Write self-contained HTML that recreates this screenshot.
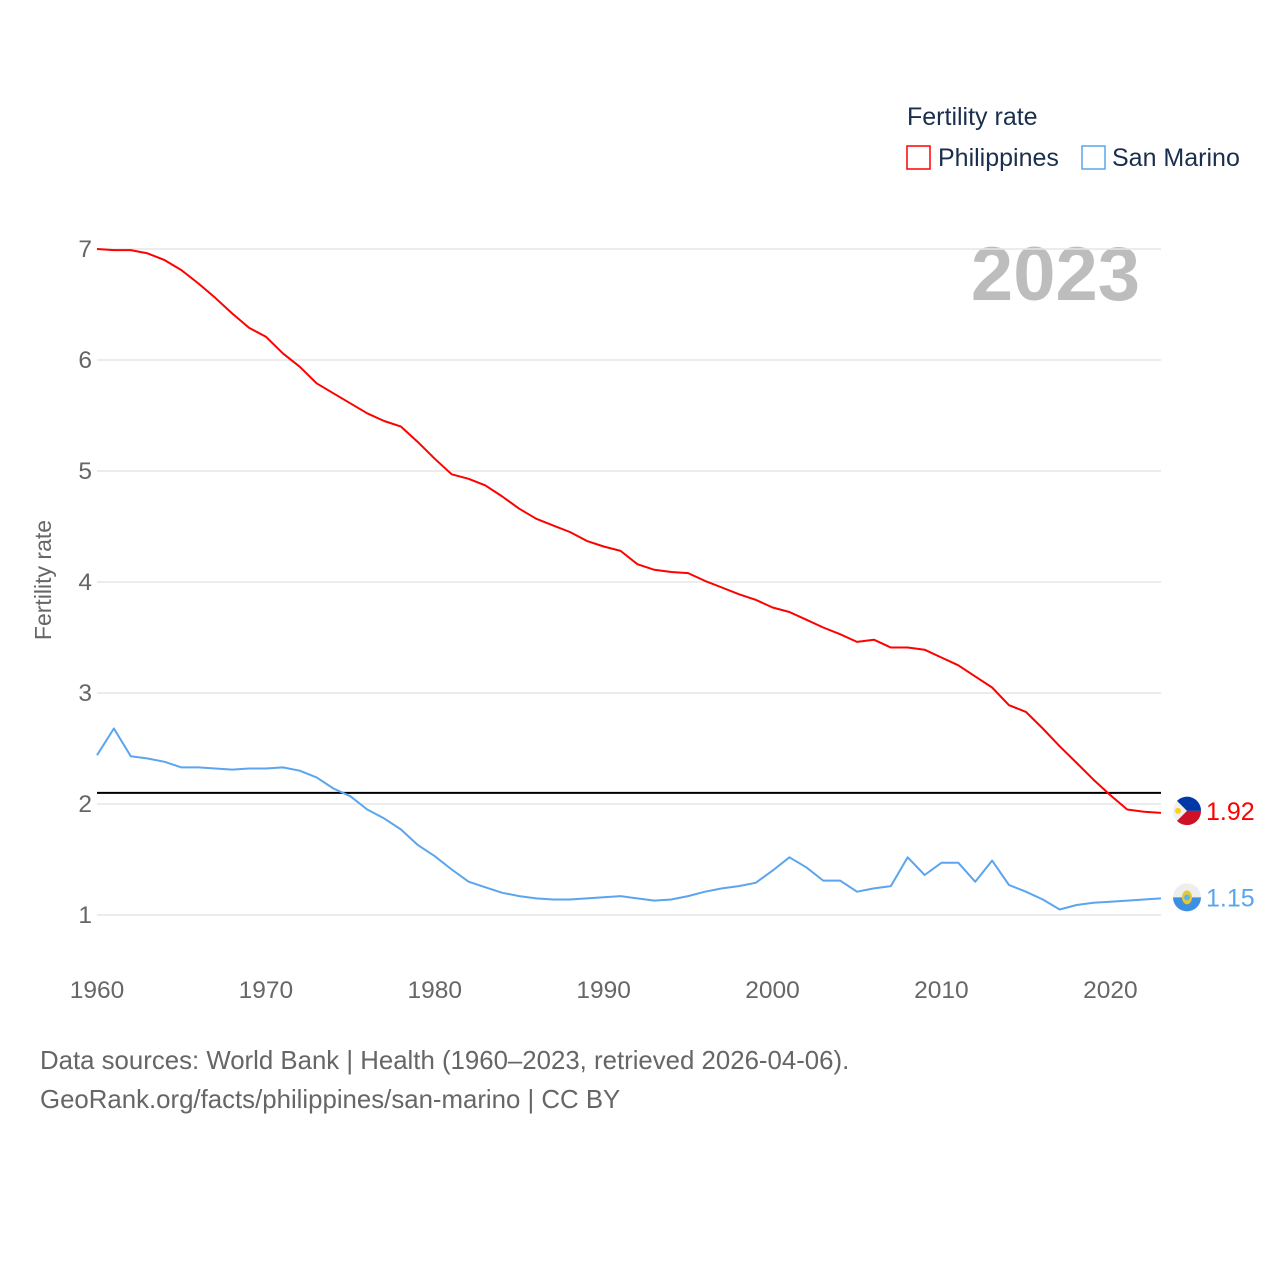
<!DOCTYPE html>
<html><head><meta charset="utf-8"><style>
body{margin:0;background:#fff;font-family:"Liberation Sans",sans-serif}
svg text{font-family:"Liberation Sans",sans-serif}
</style></head><body>
<svg id="chart" width="1280" height="1280" viewBox="0 0 1280 1280" xmlns="http://www.w3.org/2000/svg">
<rect width="1280" height="1280" fill="#fff"/>
<text x="907" y="125" font-size="25" fill="#1a2e4d">Fertility rate</text>
<g><rect x="907" y="146" width="23" height="23" fill="none" stroke="#f00" stroke-width="1.5"/><text x="938" y="166" font-size="25" fill="#1a2e4d">Philippines</text></g>
<g><rect x="1082" y="146" width="23" height="23" fill="none" stroke="#5aa5ee" stroke-width="1.5"/><text x="1112" y="166" font-size="25" fill="#1a2e4d">San Marino</text></g>
<text x="1140" y="300" font-size="76" font-weight="bold" fill="#bdbdbd" text-anchor="end">2023</text>
<text transform="translate(51,580) rotate(-90)" font-size="23" fill="#666" text-anchor="middle">Fertility rate</text>
<g id="grid"></g><g id="series"></g>
<text x="40" y="1069" font-size="25.8" fill="#666">Data sources: World Bank | Health (1960–2023, retrieved 2026-04-06).</text>
<text x="40" y="1108" font-size="25.8" fill="#666">GeoRank.org/facts/philippines/san-marino | CC BY</text>
</svg>
<script>
const years=[];for(let y=1960;y<=2023;y++)years.push(y);
const philippines=[7.0,6.99,6.99,6.96,6.90,6.81,6.69,6.56,6.42,6.29,6.21,6.06,5.94,5.79,5.70,5.61,5.52,5.45,5.40,5.26,5.11,4.97,4.93,4.87,4.77,4.66,4.57,4.51,4.45,4.37,4.32,4.28,4.16,4.11,4.09,4.08,4.01,3.95,3.89,3.84,3.77,3.73,3.66,3.59,3.53,3.46,3.48,3.41,3.41,3.39,3.32,3.25,3.15,3.05,2.89,2.83,2.68,2.52,2.37,2.22,2.08,1.95,1.93,1.92];
const sanMarino=[2.44,2.68,2.43,2.41,2.38,2.33,2.33,2.32,2.31,2.32,2.32,2.33,2.30,2.24,2.14,2.07,1.95,1.87,1.77,1.63,1.53,1.41,1.30,1.25,1.20,1.17,1.15,1.14,1.14,1.15,1.16,1.17,1.15,1.13,1.14,1.17,1.21,1.24,1.26,1.29,1.40,1.52,1.43,1.31,1.31,1.21,1.24,1.26,1.52,1.36,1.47,1.47,1.30,1.49,1.27,1.21,1.14,1.05,1.09,1.11,1.12,1.13,1.14,1.15];
const yTicks=[1,2,3,4,5,6,7];
const xTicks=[1960,1970,1980,1990,2000,2010,2020];
const replacementRate=2.1;
const NS="http://www.w3.org/2000/svg";
const X=y=>97+(y-1960)*(1064/63);
const Y=v=>915-(v-1)*111;
const grid=document.getElementById('grid'),ser=document.getElementById('series');
function mk(tag,attrs,parent,txt){const e=document.createElementNS(NS,tag);for(const k in attrs)e.setAttribute(k,attrs[k]);if(txt!==undefined)e.textContent=txt;parent.appendChild(e);return e;}
yTicks.forEach(t=>{
 const l=mk('line',{x1:97,x2:1161,y1:Y(t),y2:Y(t),stroke:'#e6e6e6','stroke-width':1.5},grid);
 
 
 const tx=mk('text',{x:92,y:Y(t)+8,'font-size':24.5,fill:'#666','text-anchor':'end'},grid,String(t));
 
 
});
xTicks.forEach(t=>{
 const tx=mk('text',{x:X(t),y:998,'font-size':24.5,fill:'#666','text-anchor':'middle'},grid,String(t));
 
 
});
const ref=mk('line',{x1:97,x2:1161,y1:Y(replacementRate),y2:Y(replacementRate),stroke:'#000','stroke-width':2},grid);


function line(vals,color,name){
 const d=vals.map((v,i)=>(i?'L':'M')+X(years[i]).toFixed(1)+','+Y(v).toFixed(1)).join(' ');
 const p=mk('path',{d:d,fill:'none',stroke:color,'stroke-width':2,'stroke-linejoin':'round'},ser);
 
 
}
line(sanMarino,'#5aa5ee','san-marino-line');
line(philippines,'#f00','philippines-line');
const lp=philippines[philippines.length-1],ls=sanMarino[sanMarino.length-1];
const g1=mk('g',{},ser);


const cy1=Y(lp)-2;
mk('circle',{cx:1187,cy:cy1,r:14,fill:'#f0f0f0'},g1);
mk('path',{d:`M1187,${cy1} L1177,${cy1-10} A14,14 0 0 1 1201,${cy1} Z`,fill:'#0038a8'},g1);
mk('path',{d:`M1187,${cy1} L1201,${cy1} A14,14 0 0 1 1177,${cy1+10} Z`,fill:'#ce1126'},g1);
mk('circle',{cx:1178,cy:cy1,r:3,fill:'#fcd116'},g1);
const t1=mk('text',{x:1206,y:cy1+9,'font-size':25,fill:'#f00'},ser,lp.toFixed(2));


const g2=mk('g',{},ser);


const cy2=Y(ls)-1;
mk('circle',{cx:1187,cy:cy2,r:14,fill:'#eee'},g2);
mk('path',{d:`M1173,${cy2} L1201,${cy2} A14,14 0 0 1 1173,${cy2} Z`,fill:'#3d8fe0'},g2);
mk('ellipse',{cx:1187,cy:cy2,rx:5,ry:7,fill:'#e6c832'},g2);
mk('circle',{cx:1187,cy:cy2,r:3,fill:'#5eb6e4'},g2);
const t2=mk('text',{x:1206,y:cy2+9,'font-size':25,fill:'#5aa5ee'},ser,ls.toFixed(2));


</script>
</body></html>
